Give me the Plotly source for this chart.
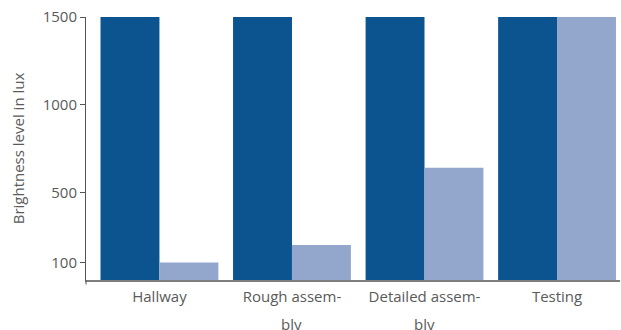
import plotly.graph_objects as go

# Brightness requirements per work area
categories = ["Hallway", "Rough assembly", "Detailed assembly", "Testing"]
label_first_lines = ["Hallway", "Rough assem-", "Detailed assem-", "Testing"]
label_second_lines = ["", "bly", "bly", ""]
available_lux = [1500, 1500, 1500, 1500]
required_lux = [100, 200, 640, 1500]
y_tick_values = [100, 500, 1000, 1500]

dark_blue = "#0B5490"
light_blue = "#92A7CB"
text_gray = "#5a5a5a"
font_family = "Open Sans, Arial, sans-serif"
label_font = dict(family=font_family, size=15, color=text_gray)

fig = go.Figure()
fig.add_trace(go.Bar(x=categories, y=available_lux, marker_color=dark_blue,
                     marker_line_width=0, name="available"))
fig.add_trace(go.Bar(x=categories, y=required_lux, marker_color=light_blue,
                     marker_line_width=0, name="required"))

fig.update_layout(
    width=621, height=330,
    margin=dict(l=85.5, r=1, t=16.7, b=50.3),
    paper_bgcolor="white", plot_bgcolor="white",
    barmode="group", bargap=0.111, bargroupgap=0,
    showlegend=False,
    font=label_font,
)

fig.update_xaxes(
    type="category",
    range=[-0.554, 3.475],
    tickvals=categories, ticktext=label_first_lines,
    showline=True, linecolor="#7f7f7f", linewidth=1.5,
    ticks="", showgrid=False, zeroline=False,
    tickfont=label_font,
    ticklabelstandoff=2,
)

fig.update_yaxes(
    range=[0, 1500],
    tickvals=y_tick_values,
    showline=True, linecolor="#555555", linewidth=1,
    ticks="outside", ticklen=5, tickcolor="#555555",
    showgrid=False, zeroline=False,
    tickfont=label_font,
    title=dict(text="Brightness level in lux", standoff=14, font=label_font),
)

# hyphenated category names continue on a widely spaced second line
for cat, second in zip(categories, label_second_lines):
    if second:
        fig.add_annotation(x=cat, xref="x", y=0, yref="paper",
                           yanchor="middle", yshift=-44, showarrow=False,
                           text=second, font=label_font)

# short extension of the vertical axis below the baseline
fig.add_shape(type="line", xref="paper", yref="paper",
              x0=0, x1=0, y0=0, y1=-0.017,
              line=dict(color="#555555", width=1))

fig.write_html("out.html")
